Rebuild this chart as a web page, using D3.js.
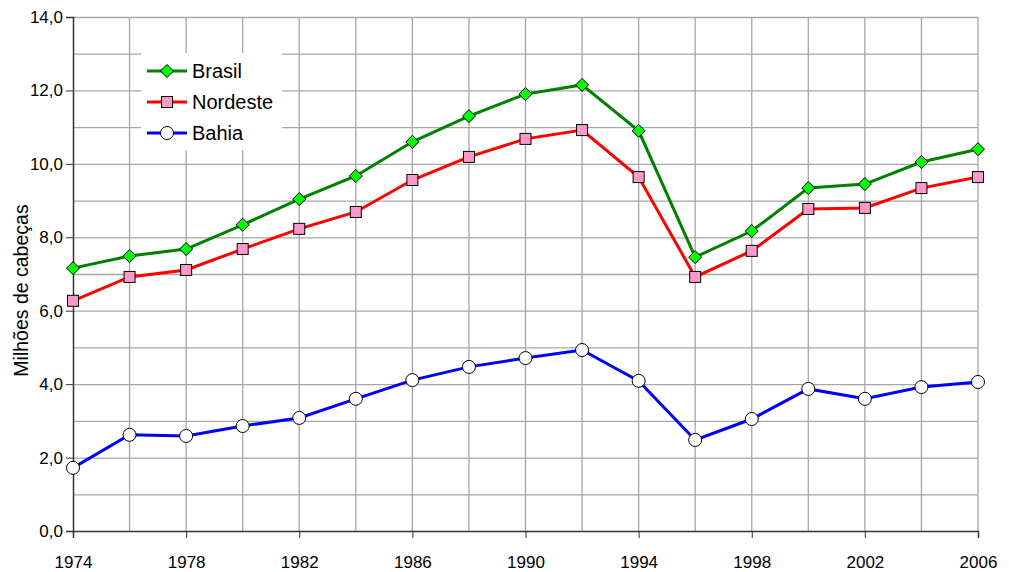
<!DOCTYPE html>
<html><head><meta charset="utf-8">
<script src="https://cdn.jsdelivr.net/npm/d3@7"></script>
<style>body{margin:0;background:#fff}svg{display:block;font-family:"Liberation Sans",Arial,sans-serif}</style>
</head><body><svg id="c" width="1009" height="572"></svg>
<script>
const years = [1974,1976,1978,1980,1982,1984,1986,1988,1990,1992,1994,1996,1998,2000,2002,2004,2006];
const brasil = [7.16,7.49,7.68,8.34,9.04,9.67,10.6,11.3,11.9,12.15,10.9,7.46,8.17,9.34,9.45,10.05,10.4];
const nordeste = [6.27,6.92,7.11,7.68,8.23,8.69,9.56,10.19,10.68,10.92,9.64,6.92,7.63,8.77,8.8,9.34,9.64];
const bahia = [1.72,2.62,2.59,2.86,3.08,3.6,4.11,4.47,4.71,4.93,4.09,2.48,3.05,3.87,3.6,3.92,4.06];
const xTicks = [1974,1978,1982,1986,1990,1994,1998,2002,2006];
const yTicks = [0,2,4,6,8,10,12,14];
const seriesNames = ["Brasil","Nordeste","Bahia"];

const svg = d3.select("#c");
const x = d3.scaleLinear().domain([1974,2006]).range([73,978]);
const y = d3.scaleLinear().domain([0,14]).range([531,17]);

// grid
const g = svg.append("g");
g.selectAll(".hg").data(d3.range(1,15)).enter().append("line")
  .attr("x1",x(1974)).attr("x2",x(2006)).attr("y1",d=>y(d)+0.5).attr("y2",d=>y(d)+0.5)
  .attr("stroke","#a6a6a6").attr("stroke-width",1.3);
g.selectAll(".vg").data(years.slice(1)).enter().append("line")
  .attr("x1",d=>x(d)).attr("x2",d=>x(d)).attr("y1",y(0)).attr("y2",y(14))
  .attr("stroke","#a6a6a6").attr("stroke-width",1.3);

// axes
const yAxis = d3.axisLeft(y).tickValues(yTicks).tickSize(7).tickFormat(d=>d3.format(".1f")(d).replace(".",","));
const ya = svg.append("g").attr("transform",`translate(${x(1974)},0)`).call(yAxis);
ya.select(".domain").attr("stroke","#333").attr("stroke-width",1.5);
ya.selectAll(".tick line").attr("stroke","#333");
ya.selectAll("text").attr("font-size",17).attr("fill","#000").attr("x",-10);

const xAxis = d3.axisBottom(x).tickValues(xTicks).tickSize(7).tickFormat(d3.format("d"));
const xa = svg.append("g").attr("transform",`translate(0,${y(0)})`).call(xAxis);
xa.select(".domain").attr("stroke","#333").attr("stroke-width",1.5);
xa.selectAll(".tick line").attr("stroke","#333");
xa.selectAll("text").attr("font-size",17).attr("fill","#000").attr("dy","1.6em");

svg.append("text").attr("transform",`translate(28,${y(6.55)}) rotate(-90)`)
  .attr("text-anchor","middle").attr("font-size",19.5).text("Milhões de cabeças");

const line = d3.line().x((d,i)=>x(years[i])).y(d=>y(d));
const defs = [
  {name:"Brasil", data:brasil, color:"#008000", marker:"diamond", fill:"#00ff00"},
  {name:"Nordeste", data:nordeste, color:"#ff0000", marker:"square", fill:"#ff99cc"},
  {name:"Bahia", data:bahia, color:"#0000ff", marker:"circle", fill:"#ffffff"}
];
function drawMarker(sel, type, fill, cx, cy){
  if(type==="diamond"){
    sel.append("path").attr("d",`M${cx},${cy-6.5}L${cx+6.5},${cy}L${cx},${cy+6.5}L${cx-6.5},${cy}Z`)
      .attr("fill",fill).attr("stroke","#000").attr("stroke-width",1);
  } else if(type==="square"){
    sel.append("rect").attr("x",cx-5.5).attr("y",cy-5.5).attr("width",11).attr("height",11)
      .attr("fill",fill).attr("stroke","#000").attr("stroke-width",1);
  } else {
    sel.append("circle").attr("cx",cx).attr("cy",cy).attr("r",6.5)
      .attr("fill",fill).attr("stroke","#000").attr("stroke-width",1);
  }
}
[...defs].reverse().forEach(s=>{
  svg.append("path").datum(s.data).attr("d",line).attr("fill","none")
    .attr("stroke",s.color).attr("stroke-width",3);
});
[...defs].reverse().forEach(s=>{
  const mg = svg.append("g");
  s.data.forEach((v,i)=>drawMarker(mg,s.marker,s.fill,x(years[i]),y(v)));
});

// legend
const lg = svg.append("g");
lg.append("rect").attr("x",141).attr("y",53).attr("width",141).attr("height",97).attr("fill","#fff");
defs.forEach((s,i)=>{
  const cy = 71 + i*31;
  lg.append("line").attr("x1",147).attr("x2",187).attr("y1",cy).attr("y2",cy)
    .attr("stroke",s.color).attr("stroke-width",3);
  drawMarker(lg,s.marker,s.fill,167,cy);
  lg.append("text").attr("x",192).attr("y",cy+7).attr("font-size",20).text(s.name);
});
</script></body></html>
